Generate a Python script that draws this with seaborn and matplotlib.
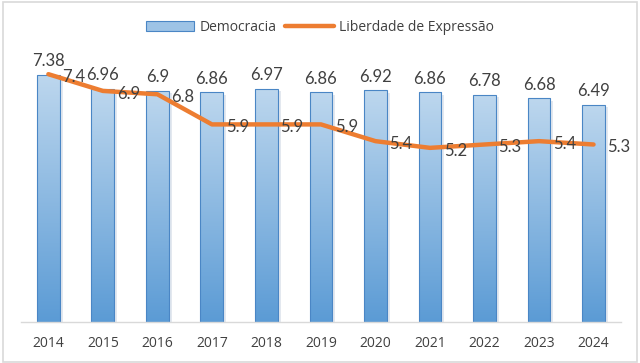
import numpy as np
import pandas as pd
import matplotlib
matplotlib.use("Agg")
import matplotlib.pyplot as plt
from matplotlib.colors import LinearSegmentedColormap
from matplotlib.patches import Rectangle
from matplotlib.lines import Line2D
import seaborn as sns

years = ["2014", "2015", "2016", "2017", "2018", "2019", "2020", "2021", "2022", "2023", "2024"]
democracia = [7.38, 6.96, 6.9, 6.86, 6.97, 6.86, 6.92, 6.86, 6.78, 6.68, 6.49]
liberdade = [7.4, 6.9, 6.8, 5.9, 5.9, 5.9, 5.4, 5.2, 5.3, 5.4, 5.3]

sns.set_theme(style="white")
plt.rcParams['font.family'] = ['Lato', 'DejaVu Sans']

df = pd.DataFrame({"Ano": years, "Democracia": democracia, "Liberdade": liberdade})

fig = plt.figure(figsize=(6.4, 3.63), dpi=100)
ax = fig.add_axes([0.033, 0.113, 0.937, 0.738])

sns.barplot(data=df, x="Ano", y="Democracia", ax=ax, width=0.42,
            color="#9dc3e6", edgecolor="#4a86c5", linewidth=0.8, zorder=2)

cmap = LinearSegmentedColormap.from_list("g", ["#5b9bd5", "#bdd7ee"])
grad = np.linspace(0, 1, 256).reshape(-1, 1)
for p in ax.patches:
    x0, y0 = p.get_x(), p.get_y()
    w, h = p.get_width(), p.get_height()
    sh = Rectangle((x0 + w, y0), w * 0.12, h * 0.99, facecolor="#e3e8ef", edgecolor="none", zorder=1)
    ax.add_patch(sh)
    im = ax.imshow(grad, extent=[x0, x0 + w, y0, y0 + h], origin="lower", cmap=cmap,
                   aspect="auto", zorder=2.1)
    im.set_clip_path(p)
    p.set_facecolor("none")
    p.set_zorder(2.2)

sns.lineplot(x=np.arange(len(years)), y=liberdade, ax=ax, color="#ed7d31", linewidth=3.2,
             zorder=3)

txt_color = "#404040"
for i, v in enumerate(democracia):
    ax.annotate(f"{v:g}", (i, v), xytext=(0, 4), textcoords="offset points",
                ha="center", va="bottom", fontsize=12, color=txt_color)
for i, v in enumerate(liberdade):
    ax.annotate(f"{v:g}", (i, v), xytext=(10, -2), textcoords="offset points",
                ha="left", va="center", fontsize=12, color=txt_color, zorder=4)

ax.set_xlim(-0.5, len(years) - 0.5)
ax.set_ylim(0, 8)
ax.set_xlabel("")
ax.set_ylabel("")
ax.set_yticks([])
for s in ["top", "left", "right"]:
    ax.spines[s].set_visible(False)
ax.spines["bottom"].set_color("#d9d9d9")
ax.spines["bottom"].set_linewidth(1)
ax.tick_params(axis="x", length=0, labelsize=10, labelcolor=txt_color, pad=10)
for lbl in ax.get_xticklabels():
    lbl.set_family(['Open Sans', 'DejaVu Sans'])

handles = [Rectangle((0, 0), 1, 1, facecolor="#9dc3e6", edgecolor="#4a86c5", linewidth=0.8),
           Line2D([0], [0], color="#ed7d31", linewidth=3.2)]
fig.legend(handles, ["Democracia", "Liberdade de Expressão"], loc="center",
           bbox_to_anchor=(0.5, 0.925), ncol=2, frameon=False, fontsize=10,
           labelcolor=txt_color, handlelength=3.5, handletextpad=0.4, columnspacing=0.6,
           prop={'family': ['Open Sans', 'DejaVu Sans'], 'size': 10})

fig.patches.append(Rectangle((0.004, 0.004), 0.992, 0.99, transform=fig.transFigure,
                             fill=False, edgecolor="#d9d9d9", linewidth=1.2))

fig.savefig("out.png", dpi=100, facecolor="white")
